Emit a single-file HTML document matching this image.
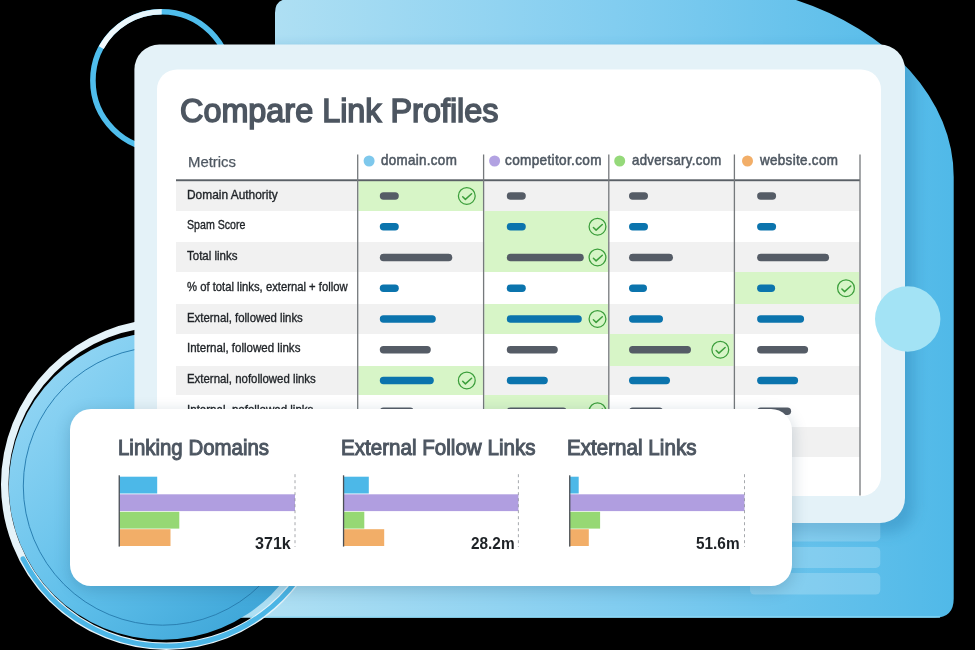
<!DOCTYPE html>
<html><head><meta charset="utf-8"><style>
html,body{margin:0;padding:0;width:975px;height:650px;overflow:hidden;background:#000}
</style></head><body>
<div style="position:relative;width:975px;height:650px;overflow:hidden">
<svg width="975" height="650" viewBox="0 0 975 650" style="position:absolute;left:0;top:0">
<defs>
<linearGradient id="gBlue" x1="275" y1="0" x2="954" y2="0" gradientUnits="userSpaceOnUse">
  <stop offset="0" stop-color="#aedff3"/><stop offset="0.5" stop-color="#82cdf0"/><stop offset="1" stop-color="#50b9e8"/>
</linearGradient>
<linearGradient id="gCircle" x1="40" y1="360" x2="290" y2="610" gradientUnits="userSpaceOnUse">
  <stop offset="0" stop-color="#94d6f4"/><stop offset="0.55" stop-color="#5fbfea"/><stop offset="1" stop-color="#3aa3d6"/>
</linearGradient>
<linearGradient id="gWhiteArc" x1="100" y1="48" x2="161" y2="10" gradientUnits="userSpaceOnUse">
  <stop offset="0" stop-color="#f4fbfe"/><stop offset="1" stop-color="#e2f3fa"/>
</linearGradient>
<filter id="shPanel" x="-10%" y="-10%" width="120%" height="120%"><feGaussianBlur stdDeviation="7"/></filter>
<filter id="shCard" x="-10%" y="-20%" width="120%" height="140%"><feGaussianBlur stdDeviation="8"/></filter>
</defs>
<circle cx="161.7" cy="80.5" r="68.8" fill="none" stroke="#4fbdec" stroke-width="5.6"/>
<path d="M101.24,47.67 A68.8,68.8 0 0 1 161.70,11.70" fill="none" stroke="url(#gWhiteArc)" stroke-width="5.6"/>
<path d="M275,13 Q275,-1 289,-1 L792.9,-1 A268.9,194.4 0 0 1 953.7,177 L953.7,598.7 Q953.7,617.7 934.7,617.7 L150,617.7 L150,330 L275,330 Z" fill="url(#gBlue)"/>
<rect x="250" y="616.2" width="690" height="1.5" fill="#8fdcf8" opacity="0.8"/>
<clipPath id="clipBlue"><path d="M275,13 Q275,-1 289,-1 L792.9,-1 A268.9,194.4 0 0 1 953.7,177 L953.7,598.7 Q953.7,617.7 934.7,617.7 L150,617.7 L150,330 L275,330 Z"/></clipPath>
<g clip-path="url(#clipBlue)"><rect x="136" y="49" width="778" height="484" rx="25" fill="#2a7fb0" opacity="0.4" filter="url(#shPanel)"/></g>
<rect x="750" y="515" width="130.3" height="26.4" rx="4.5" fill="#ffffff" opacity="0.2"/>
<rect x="750" y="547" width="130.3" height="20.9" rx="4.5" fill="#ffffff" opacity="0.2"/>
<rect x="750" y="573.1" width="130.3" height="21.5" rx="4.5" fill="#ffffff" opacity="0.2"/>
<circle cx="162.5" cy="486" r="153.7" fill="url(#gCircle)"/>
<circle cx="162.5" cy="486" r="139.2" fill="none" stroke="#2a80b2" stroke-width="1"/>
<circle cx="166.4" cy="484.5" r="161.7" fill="none" stroke="#e5f3f9" stroke-width="7.4"/>
<path d="M23.02,558.82 A161.5,161.5 0 0 0 318.16,539.74" fill="none" stroke="#4cb6e6" stroke-width="5" stroke-linecap="round"/>
<rect x="134.4" y="44.5" width="770.6" height="478.5" rx="25" fill="#e4f2f8"/>
<rect x="157" y="69.5" width="724" height="426.5" rx="20" fill="#ffffff"/>
<circle cx="907.7" cy="319" r="32.7" fill="#a3e3f5"/>
</svg>
<svg width="975" height="650" viewBox="0 0 975 650" style="position:absolute;left:0;top:0">
<rect x="176" y="181" width="684" height="30" fill="#f1f1f1" shape-rendering="crispEdges"/>
<rect x="176" y="242" width="684" height="30" fill="#f1f1f1" shape-rendering="crispEdges"/>
<rect x="176" y="304" width="684" height="30" fill="#f1f1f1" shape-rendering="crispEdges"/>
<rect x="176" y="366" width="684" height="29" fill="#f1f1f1" shape-rendering="crispEdges"/>
<rect x="176" y="427" width="684" height="30" fill="#f1f1f1" shape-rendering="crispEdges"/>
<rect x="484.3" y="395" width="123.8" height="32" fill="#d7f5c7"/>
<rect x="484.3" y="242" width="123.8" height="30" fill="#d7f5c7"/>
<rect x="358.4" y="181" width="124.5" height="30" fill="#d7f5c7"/>
<rect x="484.3" y="211" width="123.8" height="31" fill="#d7f5c7"/>
<rect x="735.1" y="272" width="124.2" height="32" fill="#d7f5c7"/>
<rect x="358.4" y="366" width="124.5" height="29" fill="#d7f5c7"/>
<rect x="484.3" y="304" width="123.8" height="30" fill="#d7f5c7"/>
<rect x="609.5" y="334" width="124.2" height="32" fill="#d7f5c7"/>
<rect x="379.8" y="192.30" width="19" height="7.4" rx="3.7" fill="#555c66"/>
<rect x="506.8" y="192.30" width="19" height="7.4" rx="3.7" fill="#555c66"/>
<rect x="629" y="192.30" width="19" height="7.4" rx="3.7" fill="#555c66"/>
<rect x="757.1" y="192.30" width="19" height="7.4" rx="3.7" fill="#555c66"/>
<rect x="379.8" y="223.05" width="19" height="7.4" rx="3.7" fill="#0b74ad"/>
<rect x="506.8" y="223.05" width="19" height="7.4" rx="3.7" fill="#0b74ad"/>
<rect x="629" y="223.05" width="19" height="7.4" rx="3.7" fill="#0b74ad"/>
<rect x="757.1" y="223.05" width="19" height="7.4" rx="3.7" fill="#0b74ad"/>
<rect x="379.8" y="253.80" width="72.5" height="7.4" rx="3.7" fill="#555c66"/>
<rect x="506.8" y="253.80" width="77" height="7.4" rx="3.7" fill="#555c66"/>
<rect x="629" y="253.80" width="44" height="7.4" rx="3.7" fill="#555c66"/>
<rect x="757.1" y="253.80" width="72" height="7.4" rx="3.7" fill="#555c66"/>
<rect x="379.8" y="284.55" width="19" height="7.4" rx="3.7" fill="#0b74ad"/>
<rect x="506.8" y="284.55" width="19" height="7.4" rx="3.7" fill="#0b74ad"/>
<rect x="629" y="284.55" width="18" height="7.4" rx="3.7" fill="#0b74ad"/>
<rect x="757.1" y="284.55" width="18" height="7.4" rx="3.7" fill="#0b74ad"/>
<rect x="379.8" y="315.30" width="56" height="7.4" rx="3.7" fill="#0b74ad"/>
<rect x="506.8" y="315.30" width="75" height="7.4" rx="3.7" fill="#0b74ad"/>
<rect x="629" y="315.30" width="34" height="7.4" rx="3.7" fill="#0b74ad"/>
<rect x="757.1" y="315.30" width="47" height="7.4" rx="3.7" fill="#0b74ad"/>
<rect x="379.8" y="346.05" width="51" height="7.4" rx="3.7" fill="#555c66"/>
<rect x="506.8" y="346.05" width="51" height="7.4" rx="3.7" fill="#555c66"/>
<rect x="629" y="346.05" width="62" height="7.4" rx="3.7" fill="#555c66"/>
<rect x="757.1" y="346.05" width="51" height="7.4" rx="3.7" fill="#555c66"/>
<rect x="379.8" y="376.80" width="54" height="7.4" rx="3.7" fill="#0b74ad"/>
<rect x="506.8" y="376.80" width="41" height="7.4" rx="3.7" fill="#0b74ad"/>
<rect x="629" y="376.80" width="41" height="7.4" rx="3.7" fill="#0b74ad"/>
<rect x="757.1" y="376.80" width="41" height="7.4" rx="3.7" fill="#0b74ad"/>
<rect x="379.8" y="407.55" width="34" height="7.4" rx="3.7" fill="#555c66"/>
<rect x="506.8" y="407.55" width="60" height="7.4" rx="3.7" fill="#555c66"/>
<rect x="629" y="407.55" width="34" height="7.4" rx="3.7" fill="#555c66"/>
<rect x="757.1" y="407.55" width="34" height="7.4" rx="3.7" fill="#555c66"/>
<circle cx="597.5" cy="411.15" r="8.4" fill="none" stroke="#3b9e3b" stroke-width="1.25"/>
<path d="M593.4,412.05 L596.1,414.65 L602.3,409.05" fill="none" stroke="#3b9e3b" stroke-width="1.5" stroke-linecap="round" stroke-linejoin="round"/>
<circle cx="597.5" cy="257.40" r="8.4" fill="none" stroke="#3b9e3b" stroke-width="1.25"/>
<path d="M593.4,258.30 L596.1,260.90 L602.3,255.30" fill="none" stroke="#3b9e3b" stroke-width="1.5" stroke-linecap="round" stroke-linejoin="round"/>
<circle cx="466.8" cy="195.90" r="8.4" fill="none" stroke="#3b9e3b" stroke-width="1.25"/>
<path d="M462.7,196.80 L465.4,199.40 L471.6,193.80" fill="none" stroke="#3b9e3b" stroke-width="1.5" stroke-linecap="round" stroke-linejoin="round"/>
<circle cx="597.5" cy="226.65" r="8.4" fill="none" stroke="#3b9e3b" stroke-width="1.25"/>
<path d="M593.4,227.55 L596.1,230.15 L602.3,224.55" fill="none" stroke="#3b9e3b" stroke-width="1.5" stroke-linecap="round" stroke-linejoin="round"/>
<circle cx="846" cy="288.15" r="8.4" fill="none" stroke="#3b9e3b" stroke-width="1.25"/>
<path d="M841.9,289.05 L844.6,291.65 L850.8,286.05" fill="none" stroke="#3b9e3b" stroke-width="1.5" stroke-linecap="round" stroke-linejoin="round"/>
<circle cx="466.8" cy="380.40" r="8.4" fill="none" stroke="#3b9e3b" stroke-width="1.25"/>
<path d="M462.7,381.30 L465.4,383.90 L471.6,378.30" fill="none" stroke="#3b9e3b" stroke-width="1.5" stroke-linecap="round" stroke-linejoin="round"/>
<circle cx="597.5" cy="318.90" r="8.4" fill="none" stroke="#3b9e3b" stroke-width="1.25"/>
<path d="M593.4,319.80 L596.1,322.40 L602.3,316.80" fill="none" stroke="#3b9e3b" stroke-width="1.5" stroke-linecap="round" stroke-linejoin="round"/>
<circle cx="720.3" cy="349.65" r="8.4" fill="none" stroke="#3b9e3b" stroke-width="1.25"/>
<path d="M716.2,350.55 L718.9,353.15 L725.1,347.55" fill="none" stroke="#3b9e3b" stroke-width="1.5" stroke-linecap="round" stroke-linejoin="round"/>
<rect x="176" y="179.3" width="684" height="1.9" fill="#5a6066"/>
<rect x="357.05" y="154.5" width="1.3" height="341" fill="#75797c"/>
<rect x="482.95000000000005" y="154.5" width="1.3" height="341" fill="#75797c"/>
<rect x="608.15" y="154.5" width="1.3" height="341" fill="#75797c"/>
<rect x="733.75" y="154.5" width="1.3" height="341" fill="#75797c"/>
<rect x="859.35" y="154.5" width="1.3" height="341" fill="#75797c"/>
<circle cx="369.1" cy="161" r="5.5" fill="#7ec8ec"/>
<circle cx="494.6" cy="161" r="5.5" fill="#b2a2e2"/>
<circle cx="619.7" cy="161" r="5.5" fill="#95d97a"/>
<circle cx="747.5" cy="161" r="5.5" fill="#f2ae68"/>
</svg>
<div style="position:absolute;left:179.80px;top:90.83px;font:400 34px/39.10px 'Liberation Sans', sans-serif;color:#4d5661;white-space:nowrap;transform:scaleX(0.9522);transform-origin:0 0;-webkit-text-stroke:1.6px #4d5661">Compare Link Profiles</div>
<div style="position:absolute;left:187.50px;top:153.58px;font:400 14.5px/16.67px 'Liberation Sans', sans-serif;color:#4f5862;white-space:nowrap;transform:scaleX(1.0271);transform-origin:0 0;-webkit-text-stroke:0.25px #4f5862">Metrics</div>
<div style="position:absolute;left:380.80px;top:152.06px;font:400 14.3px/16.45px 'Liberation Sans', sans-serif;color:#4f5862;white-space:nowrap;transform:scaleX(0.9352);transform-origin:0 0;-webkit-text-stroke:0.55px #4f5862;letter-spacing:0.35px">domain.com</div>
<div style="position:absolute;left:505.20px;top:152.06px;font:400 14.3px/16.45px 'Liberation Sans', sans-serif;color:#4f5862;white-space:nowrap;transform:scaleX(0.9505);transform-origin:0 0;-webkit-text-stroke:0.55px #4f5862;letter-spacing:0.35px">competitor.com</div>
<div style="position:absolute;left:631.60px;top:152.06px;font:400 14.3px/16.45px 'Liberation Sans', sans-serif;color:#4f5862;white-space:nowrap;transform:scaleX(0.9213);transform-origin:0 0;-webkit-text-stroke:0.55px #4f5862;letter-spacing:0.35px">adversary.com</div>
<div style="position:absolute;left:759.50px;top:152.06px;font:400 14.3px/16.45px 'Liberation Sans', sans-serif;color:#4f5862;white-space:nowrap;transform:scaleX(0.9386);transform-origin:0 0;-webkit-text-stroke:0.55px #4f5862;letter-spacing:0.35px">website.com</div>
<div style="position:absolute;left:186.80px;top:187.56px;font:400 12.2px/14.03px 'Liberation Sans', sans-serif;color:#1f2327;white-space:nowrap;transform:scaleX(0.9772);transform-origin:0 0;-webkit-text-stroke:0.35px #1f2327">Domain Authority</div>
<div style="position:absolute;left:186.80px;top:218.31px;font:400 12.2px/14.03px 'Liberation Sans', sans-serif;color:#1f2327;white-space:nowrap;transform:scaleX(0.8708);transform-origin:0 0;-webkit-text-stroke:0.35px #1f2327">Spam Score</div>
<div style="position:absolute;left:186.80px;top:249.06px;font:400 12.2px/14.03px 'Liberation Sans', sans-serif;color:#1f2327;white-space:nowrap;transform:scaleX(0.9436);transform-origin:0 0;-webkit-text-stroke:0.35px #1f2327">Total links</div>
<div style="position:absolute;left:186.80px;top:279.81px;font:400 12.2px/14.03px 'Liberation Sans', sans-serif;color:#1f2327;white-space:nowrap;transform:scaleX(0.9242);transform-origin:0 0;-webkit-text-stroke:0.35px #1f2327">% of total links, external + follow</div>
<div style="position:absolute;left:186.80px;top:310.56px;font:400 12.2px/14.03px 'Liberation Sans', sans-serif;color:#1f2327;white-space:nowrap;transform:scaleX(0.9341);transform-origin:0 0;-webkit-text-stroke:0.35px #1f2327">External, followed links</div>
<div style="position:absolute;left:186.80px;top:341.31px;font:400 12.2px/14.03px 'Liberation Sans', sans-serif;color:#1f2327;white-space:nowrap;transform:scaleX(0.9457);transform-origin:0 0;-webkit-text-stroke:0.35px #1f2327">Internal, followed links</div>
<div style="position:absolute;left:186.80px;top:372.06px;font:400 12.2px/14.03px 'Liberation Sans', sans-serif;color:#1f2327;white-space:nowrap;transform:scaleX(0.9365);transform-origin:0 0;-webkit-text-stroke:0.35px #1f2327">External, nofollowed links</div>
<div style="position:absolute;left:186.80px;top:402.81px;font:400 12.2px/14.03px 'Liberation Sans', sans-serif;color:#1f2327;white-space:nowrap;transform:scaleX(0.9470);transform-origin:0 0;-webkit-text-stroke:0.35px #1f2327">Internal, nofollowed links</div>
<div style="position:absolute;left:70px;top:409px;width:722px;height:176.7px;border-radius:21px;background:#fff;box-shadow:0 4px 16px rgba(20,60,90,0.22)"></div>
<svg width="975" height="650" viewBox="0 0 975 650" style="position:absolute;left:0;top:0">
<rect x="119.2" y="476.7" width="38.0" height="16.8" fill="#4cb8e8"/>
<rect x="119.2" y="494.3" width="175.8" height="16.8" fill="#b09ee0"/>
<rect x="119.2" y="511.8" width="60.1" height="16.8" fill="#96d874"/>
<rect x="119.2" y="529.2" width="51.3" height="16.8" fill="#f2ae68"/>
<rect x="118.60000000000001" y="475.3" width="1.3" height="71.3" fill="#4a4f55"/>
<line x1="295" y1="474.2" x2="295" y2="547" stroke="#8f9398" stroke-width="0.8" stroke-dasharray="3 3"/>
<rect x="343.5" y="476.7" width="25.3" height="16.8" fill="#4cb8e8"/>
<rect x="343.5" y="494.3" width="174.9" height="16.8" fill="#b09ee0"/>
<rect x="343.5" y="511.8" width="20.8" height="16.8" fill="#96d874"/>
<rect x="343.5" y="529.2" width="40.7" height="16.8" fill="#f2ae68"/>
<rect x="342.9" y="475.3" width="1.3" height="71.3" fill="#4a4f55"/>
<line x1="518.4" y1="474.2" x2="518.4" y2="547" stroke="#8f9398" stroke-width="0.8" stroke-dasharray="3 3"/>
<rect x="569.7" y="476.7" width="9.0" height="16.8" fill="#4cb8e8"/>
<rect x="569.7" y="494.3" width="174.8" height="16.8" fill="#b09ee0"/>
<rect x="569.7" y="511.8" width="30.4" height="16.8" fill="#96d874"/>
<rect x="569.7" y="529.2" width="19.1" height="16.8" fill="#f2ae68"/>
<rect x="569.1" y="475.3" width="1.3" height="71.3" fill="#4a4f55"/>
<line x1="744.5" y1="474.2" x2="744.5" y2="547" stroke="#8f9398" stroke-width="0.8" stroke-dasharray="3 3"/>
</svg>
<div style="position:absolute;left:117.50px;top:435.33px;font:400 22.4px/25.76px 'Liberation Sans', sans-serif;color:#4d5661;white-space:nowrap;transform:scaleX(0.9122);transform-origin:0 0;-webkit-text-stroke:1.05px #4d5661">Linking Domains</div>
<div style="position:absolute;left:340.70px;top:435.33px;font:400 22.4px/25.76px 'Liberation Sans', sans-serif;color:#4d5661;white-space:nowrap;transform:scaleX(0.9194);transform-origin:0 0;-webkit-text-stroke:1.05px #4d5661">External Follow Links</div>
<div style="position:absolute;left:566.90px;top:435.33px;font:400 22.4px/25.76px 'Liberation Sans', sans-serif;color:#4d5661;white-space:nowrap;transform:scaleX(0.9208);transform-origin:0 0;-webkit-text-stroke:1.05px #4d5661">External Links</div>
<div style="position:absolute;left:254.60px;top:534.70px;font:700 15.8px/18.17px 'Liberation Sans', sans-serif;color:#1e2226;white-space:nowrap;transform:scaleX(1.0183);transform-origin:0 0;">371k</div>
<div style="position:absolute;left:470.70px;top:534.70px;font:700 15.8px/18.17px 'Liberation Sans', sans-serif;color:#1e2226;white-space:nowrap;transform:scaleX(0.9733);transform-origin:0 0;">28.2m</div>
<div style="position:absolute;left:696.10px;top:534.70px;font:700 15.8px/18.17px 'Liberation Sans', sans-serif;color:#1e2226;white-space:nowrap;transform:scaleX(0.9733);transform-origin:0 0;">51.6m</div>
</div></body></html>
